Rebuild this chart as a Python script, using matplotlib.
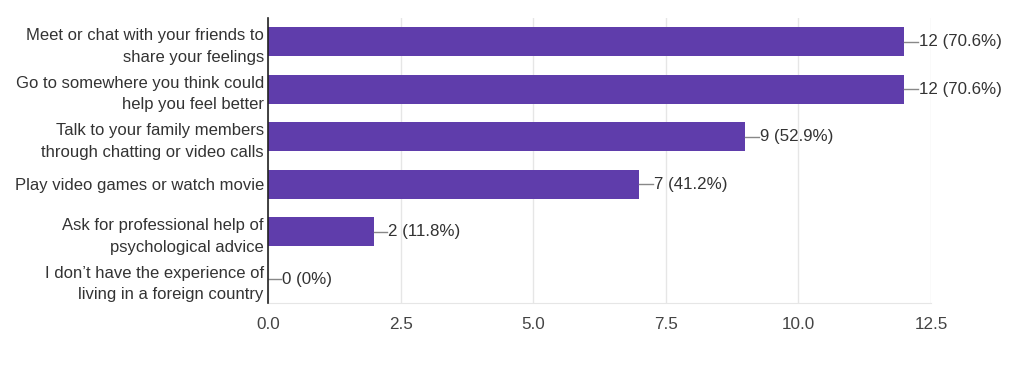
import numpy as np
import matplotlib.pyplot as plt

plt.rcParams['font.family'] = ['Liberation Sans', 'DejaVu Sans']

# answers and counts (top to bottom)
labels = ['Meet or chat with your friends to\nshare your feelings',
          'Go to somewhere you think could\nhelp you feel better',
          'Talk to your family members\nthrough chatting or video calls',
          'Play video games or watch movie',
          'Ask for professional help of\npsychological advice',
          'I don\u2019t have the experience of\nliving in a foreign country']
counts = [12, 12, 9, 7, 2, 0]
pcts = ['70.6%', '70.6%', '52.9%', '41.2%', '11.8%', '0%']
xticks = [0.0, 2.5, 5.0, 7.5, 10.0, 12.5]

purple = '#5f3dab'
txt = '#333333'

fig = plt.figure(figsize=(10.24, 3.70), dpi=100)
ax = fig.add_axes([0.2617, 0.1811, 0.6475, 0.7703])

y = np.arange(len(labels))
ax.barh(y, counts, height=0.62, color=purple, zorder=3)

# little leader line + value label
for yi, c, p in zip(y, counts, pcts):
    ax.plot([c, c + 0.25], [yi, yi], color='#888888', lw=1, zorder=4)
    ax.text(c + 0.27, yi, '%d (%s)' % (c, p), va='center', ha='left',
            fontsize=12.2, color=txt)

ax.set_ylim(len(labels) - 0.5, -0.5)
ax.set_xlim(0, 12.5)
ax.set_xticks(xticks)
ax.set_xticklabels(['%.1f' % t for t in xticks])
ax.set_yticks(y)
ax.set_yticklabels(labels, fontsize=12, color=txt, linespacing=1.55)
ax.tick_params(axis='x', length=0, pad=10, labelsize=12.3, labelcolor='#444444')
ax.tick_params(axis='y', length=0, pad=3)

ax.grid(axis='x', color='#e6e6e6', lw=1, zorder=0)
for s in ['top', 'right']:
    ax.spines[s].set_visible(False)
ax.spines['bottom'].set_color('#e6e6e6')
ax.spines['left'].set_color('#222222')
ax.spines['left'].set_linewidth(1.2)
ax.spines['left'].set_zorder(5)

fig.savefig('out.png', dpi=100)
